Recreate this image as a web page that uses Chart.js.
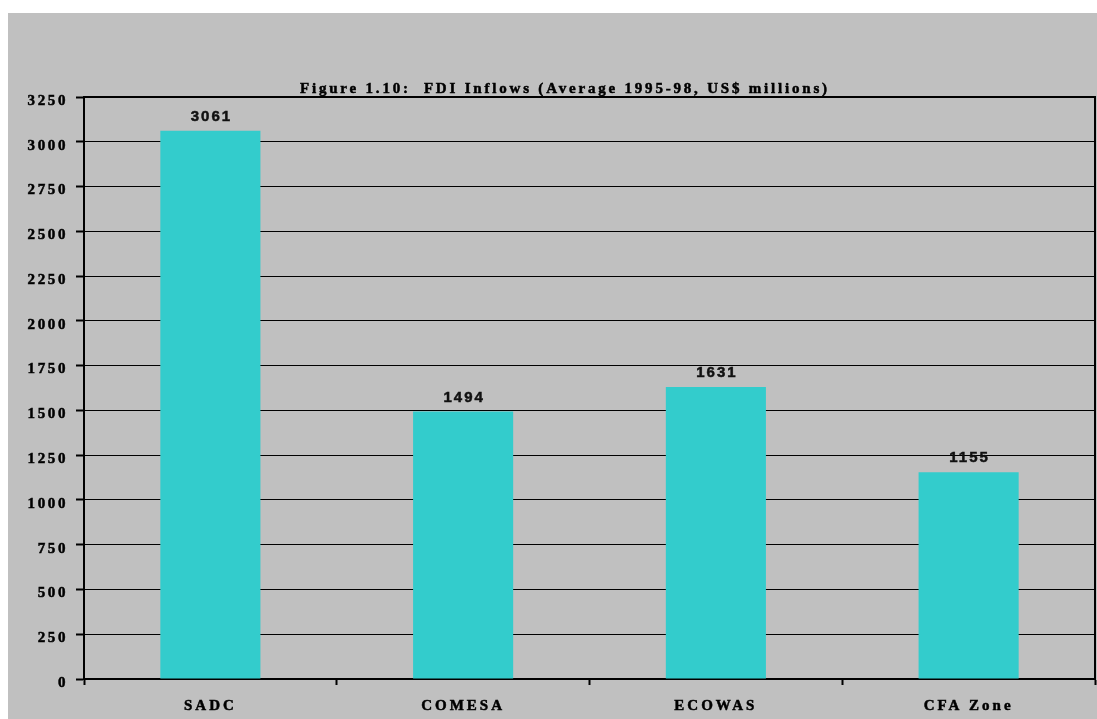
<!DOCTYPE html>
<html><head><meta charset="utf-8">
<script src="https://cdn.jsdelivr.net/npm/chart.js@4.4.1/dist/chart.umd.min.js"></script>
<style>html,body{margin:0;padding:0;background:#fff;overflow:hidden}canvas{display:block}</style>
</head><body>
<canvas id="c" width="1097" height="719"></canvas>
<script>
const categories = ['SADC', 'COMESA', 'ECOWAS', 'CFA Zone'];
const fdiInflows = [3061, 1494, 1631, 1155];
const yMin = 0;
const yMax = 3250;
const yStep = 250;
const titleText = 'Figure 1.10:  FDI Inflows (Average 1995-98, US$ millions)';

const SERIF = "'Liberation Serif', 'Times New Roman', serif";
const SANS = "'Liberation Sans', Arial, sans-serif";

const spacingPlugin = {
  id: 'spacing',
  afterUpdate(chart) {
    const sp = { x: '3px', y: '2.6px' };
    ['x', 'y'].forEach(id => {
      const s = chart.scales[id];
      if (s && !s._spWrapped) {
        const orig = s.drawLabels;
        s.drawLabels = function (ca) {
          const c = this.ctx;
          c.save();
          c.letterSpacing = sp[id];
          orig.call(this, ca);
          c.restore();
        };
        s._spWrapped = true;
      }
    });
  }
};

const decorPlugin = {
  id: 'decor',
  beforeDraw(chart) {
    const ctx = chart.ctx;
    ctx.save();
    ctx.fillStyle = '#C0C0C0';
    ctx.fillRect(8, 13, chart.width - 8, chart.height - 13);
    ctx.restore();
  },
  afterDatasetsDraw(chart) {
    const ctx = chart.ctx;
    const meta = chart.getDatasetMeta(0);
    ctx.save();
    ctx.font = "bold 15px " + SANS;
    ctx.letterSpacing = '2px';
    ctx.fillStyle = '#111';
    ctx.strokeStyle = '#111';
    ctx.lineWidth = 0.5;
    ctx.textAlign = 'center';
    ctx.textBaseline = 'middle';
    meta.data.forEach((bar, i) => {
      const t = String(fdiInflows[i]);
      ctx.fillText(t, bar.x + 1, bar.y - 14);
      ctx.strokeText(t, bar.x + 1, bar.y - 14);
    });
    ctx.restore();
  },
  afterDraw(chart) {
    const ctx = chart.ctx;
    const a = chart.chartArea;
    ctx.save();
    ctx.strokeStyle = '#000';
    ctx.lineWidth = 2;
    ctx.beginPath();
    ctx.moveTo(a.left, a.top);
    ctx.lineTo(a.right, a.top);
    ctx.lineTo(a.right, a.bottom);
    ctx.stroke();
    ctx.font = "bold 15px " + SERIF;
    ctx.letterSpacing = '2.8px';
    ctx.fillStyle = '#000';
    ctx.lineWidth = 0.5;
    ctx.textAlign = 'left';
    ctx.textBaseline = 'alphabetic';
    ctx.fillText(titleText, 300, 93);
    ctx.strokeText(titleText, 300, 93);
    ctx.restore();
  }
};

new Chart(document.getElementById('c'), {
  type: 'bar',
  data: {
    labels: categories,
    datasets: [{
      data: fdiInflows,
      backgroundColor: '#33CCCC',
      borderWidth: 0,
      barPercentage: 0.396,
      categoryPercentage: 1
    }]
  },
  plugins: [spacingPlugin, decorPlugin],
  options: {
    responsive: false,
    devicePixelRatio: 1,
    animation: false,
    layout: { padding: { top: 97, right: 2, left: 0, bottom: 0 } },
    plugins: { legend: { display: false }, tooltip: { enabled: false }, title: { display: false } },
    scales: {
      x: {
        afterFit(s) { s.height = 40; },
        offset: true,
        grid: { offset: true, drawOnChartArea: false, drawTicks: true, tickLength: 6, tickWidth: 2, tickColor: '#000', color: '#000' },
        border: { display: true, color: '#000', width: 2 },
        ticks: { color: '#000', padding: 12, textStrokeColor: '#000', textStrokeWidth: 0.5, font: { family: SERIF, size: 15, weight: 'bold' } }
      },
      y: {
        afterFit(s) { s.width = 84; },
        min: yMin,
        max: yMax,
        grid: { color: '#000', lineWidth: 1, drawTicks: true, tickLength: 8, tickWidth: 2, tickColor: '#000' },
        border: { display: true, color: '#000', width: 2 },
        ticks: { stepSize: yStep, color: '#000', padding: 8, labelOffset: 4, textStrokeColor: '#000', textStrokeWidth: 0.5, callback: v => String(v), font: { family: SERIF, size: 15, weight: 'bold' } }
      }
    }
  }
});
</script>
</body></html>
